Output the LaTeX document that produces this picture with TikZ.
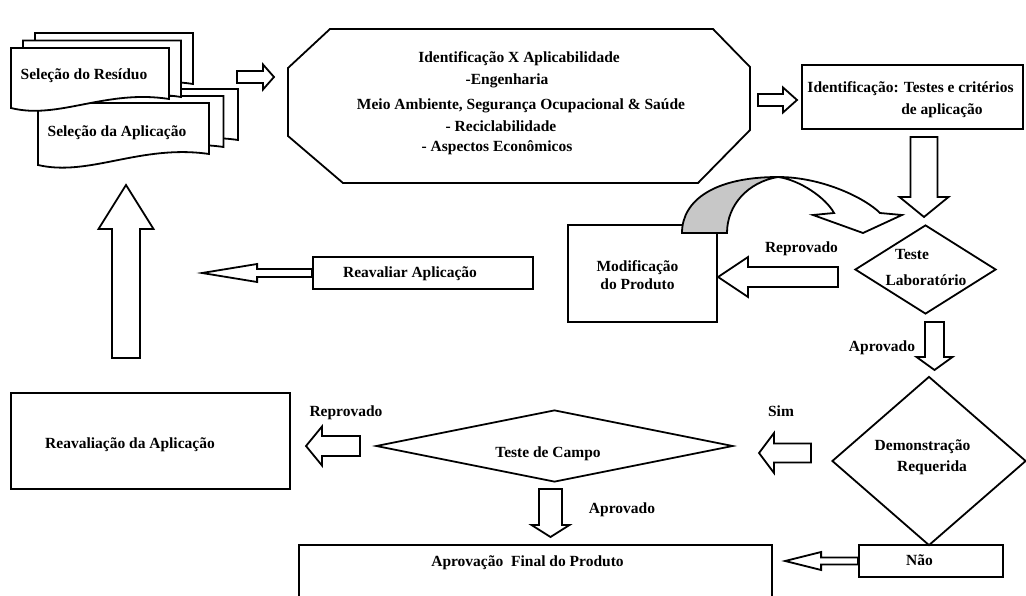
\documentclass[tikz,border=0pt]{standalone}
\usepackage{fontspec}
\setmainfont{Liberation Serif}
\usetikzlibrary{shapes.geometric}

\tikzset{
  outline/.style={draw, line width=1.8pt, line join=miter},
  box/.style={outline, fill=white, inner sep=0pt, shape=rectangle},
  decision/.style={outline, fill=white, inner sep=0pt, shape=diamond},
  lbl/.style={font=\bfseries\fontsize{15.5}{18}\selectfont, anchor=base, inner sep=0pt},
  arrowbody/.style={outline, fill=white},
  docbody/.style={outline, fill=white},
  curlshade/.style={outline, fill=black!22},
}

% block arrow: tail point, direction angle, length, shaft half-width, head half-width, head length
\newcommand\blockarrow[6]{%
  \draw[arrowbody, shift={(#1)}, rotate=#2]
    (0,-#4) -- ({#3-#6},-#4) -- ({#3-#6},-#5) -- (#3,0) -- ({#3-#6},#5) -- ({#3-#6},#4) -- (0,#4) -- cycle;}

% document sheet with wavy bottom: x0, top, x1, bottom-left y, bottom-right y
\newcommand\docpage[5]{%
  \draw[docbody] (#1,#2) -- (#3,#2) -- (#3,#5)
    .. controls ({#1+0.6*(#3-#1)},{#5-10}) and ({#1+0.3*(#3-#1)},{#4+12}) .. (#1,#4) -- cycle;}

\begin{document}
\begin{tikzpicture}[x=1pt,y=-1pt]
\clip (0,0) rectangle (1026,596);
\fill[white] (0,0) rectangle (1026,596);

% --- stacked sheets ---
\docpage{67}{89}{238}{151}{140}
\docpage{52.5}{96}{223.5}{158}{147}
\docpage{38}{103}{209}{165}{154}
\docpage{35}{33}{193}{93}{84}
\docpage{23}{40.5}{181}{102}{97}
\docpage{11}{48}{169}{108}{99}
\node[lbl] (residuo) at (84,80) {Seleção do Resíduo};
\node[lbl] (aplic) at (117,137) {Seleção da Aplicação};

% --- octagon ---
\draw[outline] (330,29) -- (713,29) -- (750,67) -- (750,130) -- (698,183)
  -- (343,183) -- (288,136) -- (288,68) -- cycle;
\node[lbl] (oct1) at (519,63) {Identificação X Aplicabilidade};
\node[lbl] (oct2) at (507,85) {-Engenharia};
\node[lbl] (oct3) at (521,110) {Meio Ambiente, Segurança Ocupacional \& Saúde};
\node[lbl] (oct4) at (501,132) {- Reciclabilidade};
\node[lbl] (oct5) at (497,152) {- Aspectos Econômicos};

% --- boxes ---
\node[box, minimum width=221pt, minimum height=64pt] (crit) at (912.5,97) {};
\node[lbl] at (910.5,93) {Identificação: Testes e critérios};
\node[lbl] at (942,115) {de aplicação};

\node[box, minimum width=149pt, minimum height=97pt] (modif) at (642.5,273.5) {};
\node[lbl] at (637.5,272) {Modificação};
\node[lbl] at (637.5,290) {do Produto};

\node[box, minimum width=220pt, minimum height=32pt] (reav) at (423,273) {};
\node[lbl] at (410,277) {Reavaliar Aplicação};

\node[box, minimum width=279pt, minimum height=96pt] (reaval) at (150.5,441) {};
\node[lbl] at (130,448) {Reavaliação da Aplicação};

\node[box, minimum width=144pt, minimum height=32pt] (nao) at (931,561) {};
\node[lbl] at (919.5,565) {Não};

\node[box, minimum width=473pt, minimum height=75pt] (final) at (535.5,582.5) {};
\node[lbl] at (527.5,566) {Aprovação\ \ Final do Produto};

% --- decisions ---
\node[decision, minimum width=141pt, minimum height=89pt] (lab) at (925.5,269.5) {};
\node[lbl] at (912,260) {Teste};
\node[lbl] at (926,286) {Laboratório};

\node[decision, minimum width=194pt, minimum height=169pt] (demo) at (929,461) {};
\node[lbl] at (922.5,450) {Demonstração};
\node[lbl] at (932,471) {Requerida};

\node[decision, minimum width=357pt, minimum height=72pt] (campo) at (554.5,446) {};
\node[lbl] at (548,457) {Teste de Campo};

% --- curved arrow over the modification box ---
\coordinate (peak) at (778,177);
\draw[curlshade] (682,233) .. controls (682,200) and (715,177) .. (peak)
  .. controls (748,182) and (727,205) .. (727,233) -- cycle;
\draw[arrowbody] (peak) .. controls (822,177) and (865,198) .. (880,213)
  -- (902,215) -- (863,233) -- (813,215) -- (834,213)
  .. controls (826,198) and (800,180) .. (peak) -- cycle;

% --- block arrows ---
\coordinate (t1) at (237,77);
\coordinate (t2) at (758,100);
\coordinate (t3) at (924,137);
\coordinate (t4) at (838,277);
\coordinate (t6) at (126,358);
\coordinate (t7) at (934.5,322);
\coordinate (t8) at (811,453);
\coordinate (t9) at (360,446);
\coordinate (t11) at (550.5,489);
\blockarrow{t1}{0}{37}{6}{12.5}{11}
\blockarrow{t2}{0}{39}{6}{12.5}{14}
\blockarrow{t3}{-90}{80}{13.5}{24.5}{20}
\blockarrow{t4}{180}{120}{10}{20}{30}
\blockarrow{reav.west}{180}{110}{4}{9}{55}
\blockarrow{t6}{90}{173}{14}{27.5}{44}
\blockarrow{t7}{-90}{48}{9.5}{18}{13}
\blockarrow{t8}{180}{52}{9.5}{20}{15}
\blockarrow{t9}{180}{54}{10}{19.5}{16}
\blockarrow{nao.west}{180}{73}{3.5}{9}{36}
\blockarrow{t11}{-90}{48}{11.5}{19}{12}

% --- arrow labels ---
\node[lbl] at (801.5,253) {Reprovado};
\node[lbl] at (882,352) {Aprovado};
\node[lbl] at (346,416) {Reprovado};
\node[lbl] at (781,416) {Sim};
\node[lbl] at (622,513) {Aprovado};
\end{tikzpicture}
\end{document}
